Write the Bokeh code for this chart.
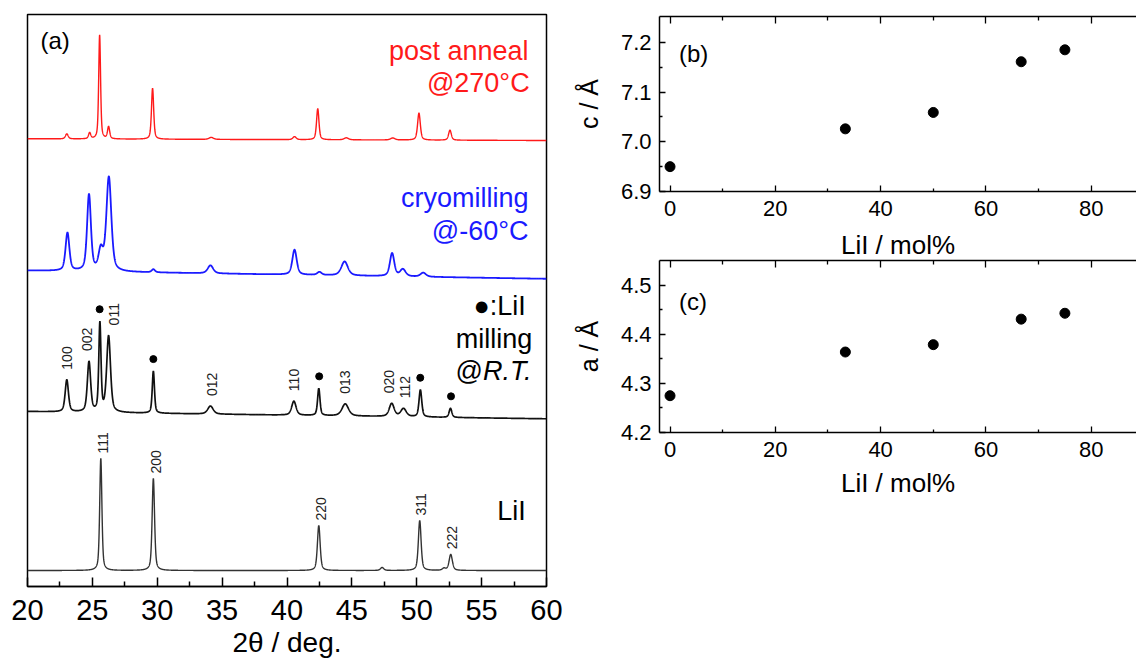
import numpy as np
from bokeh.plotting import figure
from bokeh.layouts import row, column
from bokeh.models import Range1d, LinearAxis, FixedTicker, NumeralTickFormatter
from bokeh.core.properties import value
from bokeh.embed import file_html
from bokeh.resources import INLINE

FONT = "Liberation Sans"

# ---------------- Panel (a): XRD patterns (peak lists) ----------------
# peak positions (2theta, deg), peak heights and FWHM (stacked-plot units), baseline at 20 and 60 deg
anneal_pos = [23.03, 24.79, 25.56, 26.25, 29.64, 34.16, 40.58, 42.37, 44.57, 48.15, 50.17, 52.56]
anneal_int = [5, 6, 104, 12, 51, 2, 3, 31, 2, 2, 27, 10]
anneal_fwhm = [0.25, 0.2, 0.17, 0.2, 0.2, 0.4, 0.3, 0.22, 0.4, 0.4, 0.25, 0.25]
anneal_base = [446.7, 445.0]

cryo_pos = [23.08, 24.74, 25.65, 26.27, 29.7, 34.1, 40.58, 42.5, 44.44, 48.1, 48.93, 50.5]
cryo_int = [38, 76, 20, 94, 3, 8, 25, 3, 14, 23, 7, 4]
cryo_fwhm = [0.35, 0.35, 0.4, 0.45, 0.3, 0.5, 0.4, 0.4, 0.6, 0.4, 0.5, 0.5]
cryo_base = [315.0, 306.7]

rt_pos = [23.03, 24.74, 25.58, 26.25, 29.7, 34.1, 40.53, 42.45, 44.49, 48.07, 48.98, 50.28, 52.6]
rt_int = [32, 50, 88, 76, 42, 8, 14, 27, 12, 13, 8, 27, 9]
rt_fwhm = [0.3, 0.3, 0.2, 0.35, 0.2, 0.5, 0.4, 0.22, 0.6, 0.45, 0.5, 0.25, 0.25]
rt_base = [174.0, 166.7]

lii_pos = [25.65, 29.7, 42.45, 47.33, 50.23, 52.1, 52.62]
lii_int = [112, 92, 45, 3, 50, 2, 16]
lii_fwhm = [0.2, 0.22, 0.25, 0.3, 0.25, 0.3, 0.3]
lii_base = [15.0, 15.0]

rt_hkl = ["100", "002", "011", "012", "110", "013", "020", "112"]
rt_hkl_pos = [23.03, 24.6, 26.67, 34.24, 40.52, 44.49, 47.88, 49.12]
rt_lii_marks = [25.56, 29.7, 42.48, 50.27, 52.64]
lii_hkl = ["111", "200", "220", "311", "222"]
lii_hkl_pos = [25.84, 29.89, 42.59, 50.36, 52.7]

x_ticks = [20, 25, 30, 35, 40, 45, 50, 55, 60]
x_minor = [22.5, 27.5, 32.5, 37.5, 42.5, 47.5, 52.5, 57.5]

# ---------------- Panels (b), (c): lattice parameters ----------------
lii_mol = [0, 33.3, 50, 66.7, 75]
c_len = [6.950, 7.026, 7.059, 7.161, 7.185]
a_len = [4.275, 4.364, 4.379, 4.431, 4.443]

mol_ticks = [0, 20, 40, 60, 80]
mol_minor = [10, 30, 50, 70]
c_ticks = [6.9, 7.0, 7.1, 7.2]
c_minor = [6.95, 7.05, 7.15]
a_ticks = [4.2, 4.3, 4.4, 4.5]
a_minor = [4.25, 4.35, 4.45]

tt = np.linspace(20, 60, 4001)


def pattern(pos, inten, fwhm, base):
    y = base[0] + (base[1] - base[0]) * (tt - 20) / 40.0
    for p, h, w in zip(pos, inten, fwhm):
        d = (tt - p) / (w / 2.0)
        y = y + h * (0.5 / (1 + d ** 2) + 0.5 * np.exp(-np.log(2) * d ** 2))
    return y


def top_near(y, x0, half=0.45):
    m = (tt > x0 - half) & (tt < x0 + half)
    return float(y[m].max())


y_anneal = pattern(anneal_pos, anneal_int, anneal_fwhm, anneal_base)
y_cryo = pattern(cryo_pos, cryo_int, cryo_fwhm, cryo_base)
y_rt = pattern(rt_pos, rt_int, rt_fwhm, rt_base)
y_lii = pattern(lii_pos, lii_int, lii_fwhm, lii_base)

pa = figure(width=570, height=663, x_range=Range1d(20, 60), y_range=Range1d(-1, 571),
            output_backend="svg", toolbar_location=None,
            min_border_left=27, min_border_right=24, min_border_top=14, min_border_bottom=77)
pa.grid.visible = False
pa.yaxis.visible = False
pa.outline_line_color = "black"
pa.outline_line_width = 1.5
pa.outline_line_alpha = 1.0

ax = pa.xaxis[0]
ax.ticker = FixedTicker(ticks=x_ticks, minor_ticks=x_minor)
ax.major_tick_in = 9
ax.major_tick_out = 0
ax.minor_tick_in = 5
ax.minor_tick_out = 0
ax.axis_line_width = 1.5
ax.major_tick_line_width = 1.5
ax.minor_tick_line_width = 1.5
ax.major_label_text_font = FONT
ax.major_label_text_font_size = "29px"
ax.major_label_text_color = "black"
ax.major_label_standoff = 13
ax.axis_label = "2θ / deg."
ax.axis_label_text_font = FONT
ax.axis_label_text_font_size = "28px"
ax.axis_label_text_font_style = "normal"
ax.axis_label_text_color = "black"
ax.axis_label_standoff = 4

pa.line(tt, y_anneal, line_color="#ff1a1a", line_width=1.4)
pa.line(tt, y_cryo, line_color="#1a1aff", line_width=1.8)
pa.line(tt, y_rt, line_color="#111111", line_width=1.7)
pa.line(tt, y_lii, line_color="#333333", line_width=1.4)

# peak labels
rt_lab_y = [top_near(y_rt, x) + 10 for x in rt_hkl_pos]
pa.text(x=rt_hkl_pos, y=rt_lab_y, text=rt_hkl, angle=np.pi / 2, text_align="left",
        text_baseline="middle", text_font=value(FONT), text_font_size="14px", text_color="#222222")
lii_lab_y = [top_near(y_lii, x) + 5 for x in lii_hkl_pos]
pa.text(x=lii_hkl_pos, y=lii_lab_y, text=lii_hkl, angle=np.pi / 2, text_align="left",
        text_baseline="middle", text_font=value(FONT), text_font_size="14px", text_color="#222222")
mark_y = [top_near(y_rt, x, 0.15) + 12 for x in rt_lii_marks]
pa.scatter(x=rt_lii_marks, y=mark_y, size=7, color="black")

# sample labels
pa.text(x=[21.0], y=[545], text=["(a)"], text_align="left", text_baseline="middle",
        text_font=value(FONT), text_font_size="24px", text_color="black")
pa.text(x=[58.62, 58.7], y=[535, 503], text=["post anneal", "@270°C"], text_align="right",
        text_baseline="middle", text_font=value(FONT), text_font_size="27px", text_color="#ff1a1a")
pa.text(x=[58.62, 58.62], y=[388, 355], text=["cryomilling", "@-60°C"], text_align="right",
        text_baseline="middle", text_font=value(FONT), text_font_size="27px", text_color="#1a1aff")
pa.text(x=[58.4, 58.9], y=[280, 247], text=["●:LiI", "milling"], text_align="right",
        text_baseline="middle", text_font=value(FONT), text_font_size="27px", text_color="black")
pa.text(x=[55.1], y=[215], text=["@"], text_align="right", text_baseline="middle",
        text_font=value(FONT), text_font_size="27px", text_color="black")
pa.text(x=[55.1], y=[215], text=["R.T."], text_align="left", text_baseline="middle",
        text_font=value(FONT), text_font_size="27px", text_font_style="italic", text_color="black")
pa.text(x=[58.4], y=[75], text=["LiI"], text_align="right", text_baseline="middle",
        text_font=value(FONT), text_font_size="27px", text_color="black")


def style_axis(a, ticks, minor, show_labels=True):
    a.ticker = FixedTicker(ticks=ticks, minor_ticks=minor)
    a.major_tick_in = 6
    a.major_tick_out = 0
    a.minor_tick_in = 3
    a.minor_tick_out = 0
    a.axis_line_width = 1.5
    a.major_tick_line_width = 1.3
    a.minor_tick_line_width = 1.3
    a.major_label_text_font = FONT
    a.major_label_text_color = "black"
    a.axis_label_text_font = FONT
    a.axis_label_text_font_style = "normal"
    a.axis_label_text_color = "black"
    if show_labels:
        a.major_label_text_font_size = "22px"
    else:
        a.major_label_text_font_size = "1px"
        a.major_label_text_alpha = 0
        a.major_label_standoff = 0


def lattice_fig(vals, yr, yt, ym, ylabel, tag, tag_y, height, top, bottom, xlabel_as_title):
    f = figure(width=566, height=height, x_range=Range1d(-2, 88.6), y_range=Range1d(*yr),
               output_backend="svg", toolbar_location=None,
               min_border_left=89, min_border_right=0, min_border_top=top, min_border_bottom=bottom)
    f.grid.visible = False
    f.outline_line_color = None
    xa = f.xaxis[0]
    style_axis(xa, mol_ticks, mol_minor)
    xa.major_label_standoff = 9
    ya = f.yaxis[0]
    style_axis(ya, yt, ym)
    ya.formatter = NumeralTickFormatter(format="0.0")
    ya.major_label_standoff = 8
    ya.axis_label = ylabel
    ya.axis_label_text_font_size = "25px"
    ya.axis_label_standoff = 15
    top_ax = LinearAxis()
    style_axis(top_ax, mol_ticks, mol_minor, show_labels=False)
    top_ax.major_tick_in = 7
    top_ax.minor_tick_in = 4
    f.add_layout(top_ax, "above")
    if xlabel_as_title:
        # x-axis title of the panel above, placed in this panel's top margin
        f.title.text = "LiI / mol%"
        f.title.align = "center"
        f.title.text_font = FONT
        f.title.text_font_size = "26px"
        f.title.text_font_style = "normal"
        f.title.text_color = "black"
        f.title.standoff = 2
        xa.axis_label = "LiI / mol%"
        xa.axis_label_text_font_size = "26px"
        xa.axis_label_standoff = 8
    f.scatter(lii_mol, vals, size=10, color="black")
    f.text(x=[1.7], y=[tag_y], text=[tag], text_align="left", text_baseline="middle",
           text_font=value(FONT), text_font_size="24px", text_color="black")
    return f


pb = lattice_fig(c_len, (6.9, 7.252), c_ticks, c_minor, "c / Å", "(b)", 7.177, 226, 16, 35, False)
pc = lattice_fig(a_len, (4.2, 4.5505), a_ticks, a_minor, "a / Å", "(c)", 4.466, 280, 33, 74, True)

layout = row(pa, column(pb, pc, spacing=0), spacing=0)
open("out.html", "w").write(file_html(layout, INLINE))
